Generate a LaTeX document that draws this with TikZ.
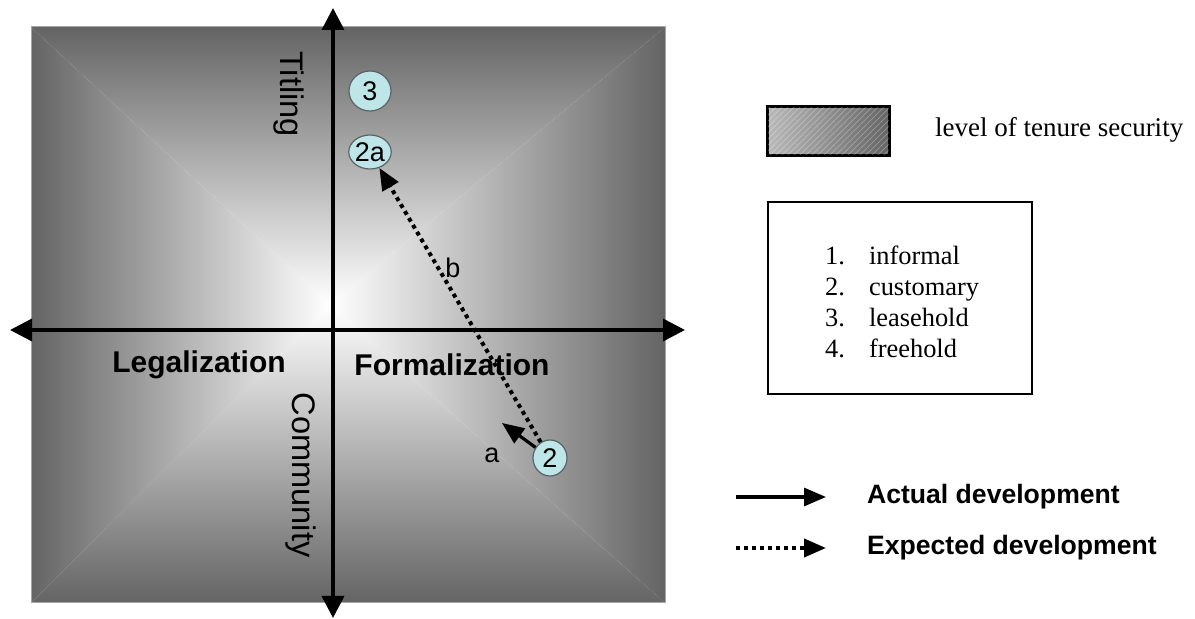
\documentclass[tikz,border=0pt]{standalone}
\usepackage{fontspec}
\setmainfont{Liberation Sans}
\newfontfamily\seriffont{Liberation Serif}
\usetikzlibrary{arrows.meta,patterns,shapes.geometric}
\definecolor{edgegray}{RGB}{100,100,100}
\definecolor{bubble}{RGB}{190,229,232}
\definecolor{bubbleline}{RGB}{90,100,100}
\tikzset{
  axis/.style={line width=1.75pt, {Triangle[length=11pt,width=11pt]}-{Triangle[length=11pt,width=11pt]}},
  bubblenode/.style={ellipse, draw=bubbleline, fill=bubble, line width=0.6pt, inner sep=0pt, font=\fontsize{13.5}{13.5}\selectfont},
  actual/.style={line width=1.6pt, -{Triangle[length=11pt,width=9pt]}},
  expected/.style={line width=2pt, dash pattern=on 2pt off 2pt, -{Triangle[length=11pt,width=9pt]}},
  boldlabel/.style={font=\fontsize{15}{15}\bfseries\selectfont},
  rotlabel/.style={rotate=-90, font=\fontsize{16.3}{16.3}\selectfont},
  letterlabel/.style={font=\fontsize{13.5}{13.5}\selectfont},
  legendtext/.style={anchor=west, font=\fontsize{13.3}{13.3}\bfseries\selectfont},
  serifitem/.style={anchor=base west, font=\seriffont\fontsize{13.2}{13.2}\selectfont},
}
\begin{document}
\begin{tikzpicture}[x=0.5pt,y=-0.5pt]
\useasboundingbox (0,0) rectangle (1195,619);
% pyramid gradient background
\coordinate (TL) at (31,27);
\coordinate (TR) at (665,27);
\coordinate (BR) at (665,603);
\coordinate (BL) at (31,603);
\coordinate (C) at (330,305);
\begin{scope}
  \clip (TL) -- (TR) -- (C) -- cycle;
  \shade[top color=edgegray, bottom color=white] (31,27) rectangle (665,305.5);
\end{scope}
\begin{scope}
  \clip (BL) -- (BR) -- (C) -- cycle;
  \shade[top color=white, bottom color=edgegray] (31,304.5) rectangle (665,603);
\end{scope}
\begin{scope}
  \clip (TL) -- (BL) -- (C) -- cycle;
  \shade[left color=edgegray, right color=white] (31,27) rectangle (330.5,603);
\end{scope}
\begin{scope}
  \clip (TR) -- (BR) -- (C) -- cycle;
  \shade[left color=white, right color=edgegray] (329.5,27) rectangle (665,603);
\end{scope}
\draw[gray!70, line width=0.5pt] (TL) rectangle (BR);

% axes
\coordinate (xl) at (10,330);
\coordinate (xr) at (685,330);
\coordinate (yt) at (333,8);
\coordinate (yb) at (333,618);
\draw[axis] (xl) -- (xr);
\draw[axis] (yb) -- (yt);

% axis labels
\node[boldlabel] (leg) at (199,365) {Legalization};
\node[boldlabel] (form) at (452,365) {Formalization};
\node[rotlabel] (tit) at (289,94) {Titling};
\node[rotlabel] (com) at (301,475) {Community};

% bubbles
\node[bubblenode, minimum width=21pt, minimum height=20pt] (n3) at (370,91) {3};
\node[bubblenode, minimum width=20pt, minimum height=17pt] (n2a) at (370,152) {2a};
\node[bubblenode, minimum width=17pt, minimum height=18pt] (n2) at (550,458) {2};

% developments
\coordinate (atip) at (502,423);
\draw[actual] (n2) -- (atip);
\draw[expected] (n2) -- (n2a);
\node[letterlabel] (la) at (492,455) {a};
\node[letterlabel] (lb) at (453,268) {b};

% legend: tenure security
\node[draw=black, line width=1pt, minimum width=60.5pt, minimum height=24pt, inner sep=0pt,
      left color=gray!55, right color=edgegray] (sec) at (828.5,131) {};
\fill[pattern=north east lines, pattern color=white, opacity=0.25] (sec.south west) rectangle (sec.north east);
\draw[black, line width=1pt] (sec.south west) rectangle (sec.north east);
\node[anchor=west, font=\seriffont\fontsize{13.5}{13.5}\selectfont] (sectext) at (928,130) {level of tenure security};

% legend: list
\node[draw=black, line width=1pt, minimum width=132pt, minimum height=96pt] (listbox) at (900,298) {};
\node[serifitem] (i1n) at (818,265) {1.};
\node[serifitem] (i1) at (862,265) {informal};
\node[serifitem] (i2n) at (818,296) {2.};
\node[serifitem] (i2) at (862,296) {customary};
\node[serifitem] (i3n) at (818,327) {3.};
\node[serifitem] (i3) at (862,327) {leasehold};
\node[serifitem] (i4n) at (818,358) {4.};
\node[serifitem] (i4) at (862,358) {freehold};

% legend: arrows
\coordinate (a1s) at (736,497);
\coordinate (a1e) at (826,497);
\coordinate (a2s) at (736,548);
\coordinate (a2e) at (826,548);
\draw[actual] (a1s) -- (a1e);
\draw[expected] (a2s) -- (a2e);
\node[legendtext] (ad) at (860,497) {Actual development};
\node[legendtext] (ed) at (860,548) {Expected development};
\end{tikzpicture}
\end{document}
